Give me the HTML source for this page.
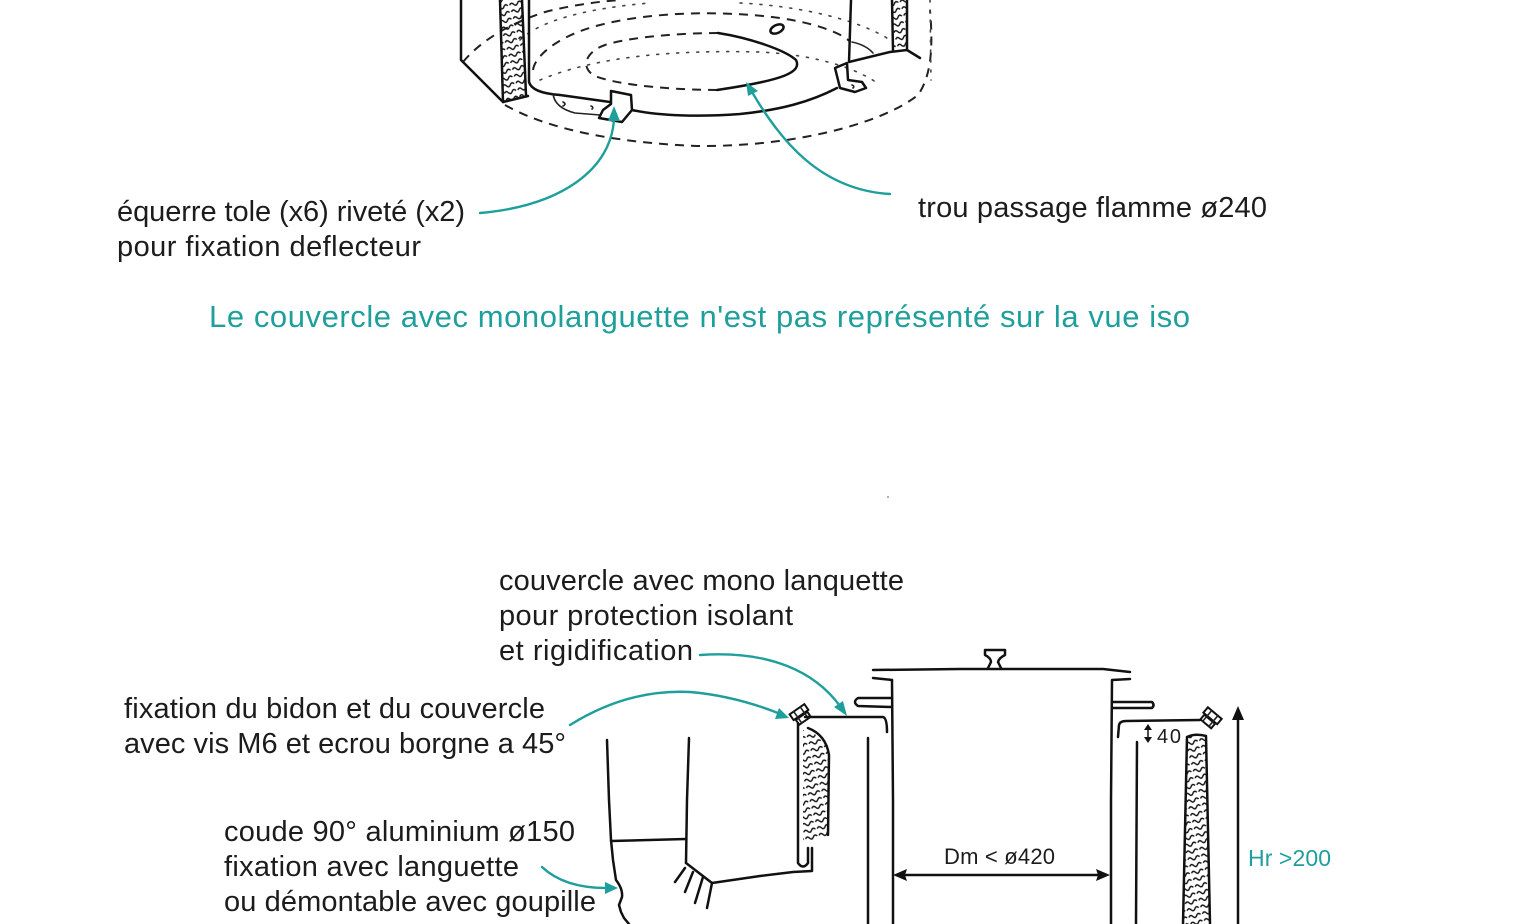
<!DOCTYPE html>
<html><head><meta charset="utf-8"><style>
html,body{margin:0;padding:0;background:#fff;}
svg{display:block;}
.t{font-family:"Liberation Sans",sans-serif;font-size:29px;fill:#1c1c1c;}
.teal{fill:#1f9f9b;}
.s{fill:none;stroke:#111;stroke-width:2.5;stroke-linecap:round;stroke-linejoin:round;}
.thin{fill:none;stroke:#222;stroke-width:1.6;stroke-linecap:round;}
.dash{fill:none;stroke:#222;stroke-width:2;stroke-dasharray:9 7;}
.dot{fill:none;stroke:#444;stroke-width:1.6;stroke-dasharray:2 8;stroke-linecap:round;}
.a{fill:none;stroke:#1f9f9b;stroke-width:2.4;stroke-linecap:round;}
.ah{fill:#1f9f9b;}
</style></head><body>
<svg width="1540" height="924" viewBox="0 0 1540 924" xmlns="http://www.w3.org/2000/svg">
<defs>
<pattern id="sq" width="14" height="7" patternUnits="userSpaceOnUse" patternTransform="rotate(-15)">
<path d="M1,4 q2,-3 4,0 t4,0 t4,0" fill="none" stroke="#111" stroke-width="1.4"/>
</pattern>
</defs>
<rect width="1540" height="924" fill="#fff"/>

<!-- ===== TOP SKETCH ===== -->
<path class="dash" d="M505,105 C540,125 600,142 697,146 C790,147 880,125 918,95 C932,75 933,45 930,10"/>
<path class="dot" d="M930,0 L931,80"/>
<path class="dash" d="M463,62 Q490,30 545,12 Q580,3 620,0"/>
<path class="dash" d="M533,70 C535,55 560,35 600,25 C650,12 720,10 780,18 C820,24 845,35 850,42"/>
<path class="dot" d="M520,40 C540,20 590,8 650,3 M740,3 C800,6 860,20 890,40"/>
<path class="dot" d="M540,80 C600,55 680,50 760,52 C820,55 860,70 880,85"/>
<path class="dash" d="M717,90 C680,90 620,86 595,76 C580,68 585,52 605,45 C630,37 680,33 718,33"/>
<path class="s" d="M718,33 C750,38 785,50 796,60 C802,72 785,80 717,90"/>
<ellipse class="s" cx="777" cy="29" rx="7" ry="4" transform="rotate(-25 777 29)"/>
<path class="s" d="M461,0 L461,60 L503,102"/>
<path d="M500,0 L522,0 L526,95 L503,102 Z" fill="url(#sq)"/>
<path class="s" d="M500,0 L503,102 L528,96"/>
<path class="s" d="M522,0 L526,95"/>
<path class="s" d="M529,0 L529,82 Q532,93 560,95 L610,102"/>
<path class="thin" d="M553,94 Q555,108 575,113 L600,115"/>
<path class="thin" d="M563,102 q4,2 0,4 M591,106 q3,1 1,3"/>
<path class="s" d="M611,91 L631,95 L632,110 L622,122 L599,118 L603,110 L611,104 Z"/>
<path class="s" d="M632,110 C660,116 700,117 740,114 C780,110 810,102 837,88"/>
<path class="s" d="M835,68 L847,63 L848,80 L862,82 L866,88 L855,92 L840,88 Z"/>
<path class="thin" d="M852,85 q3,1 1,3"/>
<path class="s" d="M851,0 L849,62 L890,52 L907,50 L920,58"/>
<path class="thin" d="M852,42 Q866,45 873,53"/>
<path d="M892,0 L907,0 L907,48 L893,50 Z" fill="url(#sq)"/>
<path class="s" d="M892,0 L893,50 M907,0 L907,50"/>

<!-- top arrows -->
<path class="a" d="M480,213 C560,206 612,170 614,118"/>
<path class="ah" d="M614,106 L620,121 L608,121 Z"/>
<path class="a" d="M890,194 C820,190 780,140 752,92"/>
<path class="ah" d="M746,82 L758,91 L748,96 Z"/>

<!-- top texts -->
<text class="t" x="117" y="221" textLength="348" lengthAdjust="spacing">équerre tole (x6) riveté (x2)</text>
<text class="t" x="117" y="256" textLength="304" lengthAdjust="spacing">pour fixation deflecteur</text>
<text class="t" x="918" y="217" textLength="349" lengthAdjust="spacing">trou passage flamme ø240</text>
<text class="t teal" x="209" y="327" style="font-size:31px" textLength="981" lengthAdjust="spacing">Le couvercle avec monolanguette n'est pas représenté sur la vue iso</text>

<circle cx="888" cy="497" r="1" fill="#999"/>

<!-- ===== BOTTOM SKETCH ===== -->
<path class="s" d="M607,740 L609,800 L611,840 L613,860 L616,880 Q623,889 622,897 L619,905 L621,912 L624,918 L629,924"/>
<path class="s" d="M689,738 L687,800 L686,863"/>
<path class="s" d="M611,841 L686,839"/>
<path class="s" d="M686,863 L712,883 L760,876 L793,872 L812,871 L812,848"/>
<path class="s" d="M675,882 L685,868 M685,892 L693,872 M695,903 L703,877 M707,908 L712,883"/>
<path class="s" d="M798,723 L798,863 Q803,870 808,863 L808,848"/>
<path d="M803,730 Q826,735 829,755 L828,838 L803,842 Z" fill="url(#sq)"/>
<path class="s" d="M808,728 Q826,735 829,755 L828,835"/>
<g transform="rotate(-35 801 715)">
<rect x="792" y="708" width="18" height="7" fill="none" stroke="#111" stroke-width="2"/>
<rect x="794" y="716" width="14" height="6" fill="none" stroke="#111" stroke-width="2"/>
<path class="thin" d="M797,708 L797,722 M805,708 L805,722"/>
</g>
<path class="s" d="M805,717 L883,717 Q887,718 887,732"/>
<path class="s" d="M868,738 L868,924"/>
<path class="s" d="M892,680 L893,800 L893,924"/>
<path class="s" d="M873,678 L892,680"/>
<path class="s" d="M873,670 L960,669 L1103,669 L1130,672"/>
<path class="s" d="M892,698 L858,698 Q852,702 858,706 L892,707"/>
<path class="s" d="M985,650 L1005,650 L1005,655 Q999,658 998,662 L1001,668 M985,650 L985,655 Q991,658 991,662 L988,668"/>
<path class="s" d="M1130,679 L1112,680 L1111,800 L1111,924"/>
<path class="s" d="M1112,702 L1152,702 Q1155,705 1152,708 L1112,708"/>
<path class="s" d="M1118,737 L1119,725 Q1120,721 1126,721 L1200,720"/>
<path class="s" d="M1137,742 L1136,924"/>
<path class="thin" d="M1148,727 L1148,740"/>
<path d="M1148,724 L1152,730 L1144,730 Z M1148,743 L1152,737 L1144,737 Z" fill="#111"/>
<g transform="rotate(40 1209 720)">
<rect x="1200" y="711" width="18" height="7" fill="none" stroke="#111" stroke-width="2"/>
<rect x="1202" y="719" width="14" height="6" fill="none" stroke="#111" stroke-width="2"/>
<path class="thin" d="M1205,711 L1205,725 M1213,711 L1213,725"/>
</g>
<path d="M1187,737 Q1195,733 1206,736 L1210,924 L1183,924 Z" fill="url(#sq)"/>
<path class="s" d="M1187,737 Q1195,733 1206,736 M1187,737 L1183,924 M1206,736 L1210,924"/>
<path class="s" d="M1238,924 L1238,716"/>
<path d="M1238,706 L1244,720 L1232,720 Z" fill="#111"/>
<path class="s" d="M898,875 L1106,875"/>
<path d="M893,875 L907,869 L905,875 L907,881 Z M1110,875 L1096,869 L1098,875 L1096,881 Z" fill="#111"/>

<!-- bottom arrows -->
<path class="a" d="M700,655 C770,650 815,672 840,706"/>
<path class="ah" d="M847,716 L834,707 L843,701 Z"/>
<path class="a" d="M570,725 C610,700 650,690 690,692 C725,695 755,704 778,713"/>
<path class="ah" d="M789,718 L775,719 L779,708 Z"/>
<path class="a" d="M542,867 C560,884 585,888 606,888"/>
<path class="ah" d="M618,888 L605,894 L605,882 Z"/>

<!-- bottom texts -->
<text class="t" x="499" y="590" textLength="405" lengthAdjust="spacing">couvercle avec mono lanquette</text>
<text class="t" x="499" y="625" textLength="294" lengthAdjust="spacing">pour protection isolant</text>
<text class="t" x="499" y="660" textLength="194" lengthAdjust="spacing">et rigidification</text>
<text class="t" x="124" y="718" textLength="421" lengthAdjust="spacing">fixation du bidon et du couvercle</text>
<text class="t" x="124" y="753" textLength="442" lengthAdjust="spacing">avec vis M6 et ecrou borgne a 45°</text>
<text class="t" x="224" y="841" textLength="351" lengthAdjust="spacing">coude 90° aluminium ø150</text>
<text class="t" x="224" y="876" textLength="295" lengthAdjust="spacing">fixation avec languette</text>
<text class="t" x="224" y="911" textLength="372" lengthAdjust="spacing">ou démontable avec goupille</text>
<text class="t" x="944" y="864" style="font-size:22px" textLength="111" lengthAdjust="spacing">Dm &lt; ø420</text>
<text class="t" x="1157" y="743" style="font-size:20px" textLength="24" lengthAdjust="spacing">40</text>
<text class="t teal" x="1248" y="866" style="font-size:23px" textLength="83" lengthAdjust="spacing">Hr &gt;200</text>
</svg>
</body></html>
